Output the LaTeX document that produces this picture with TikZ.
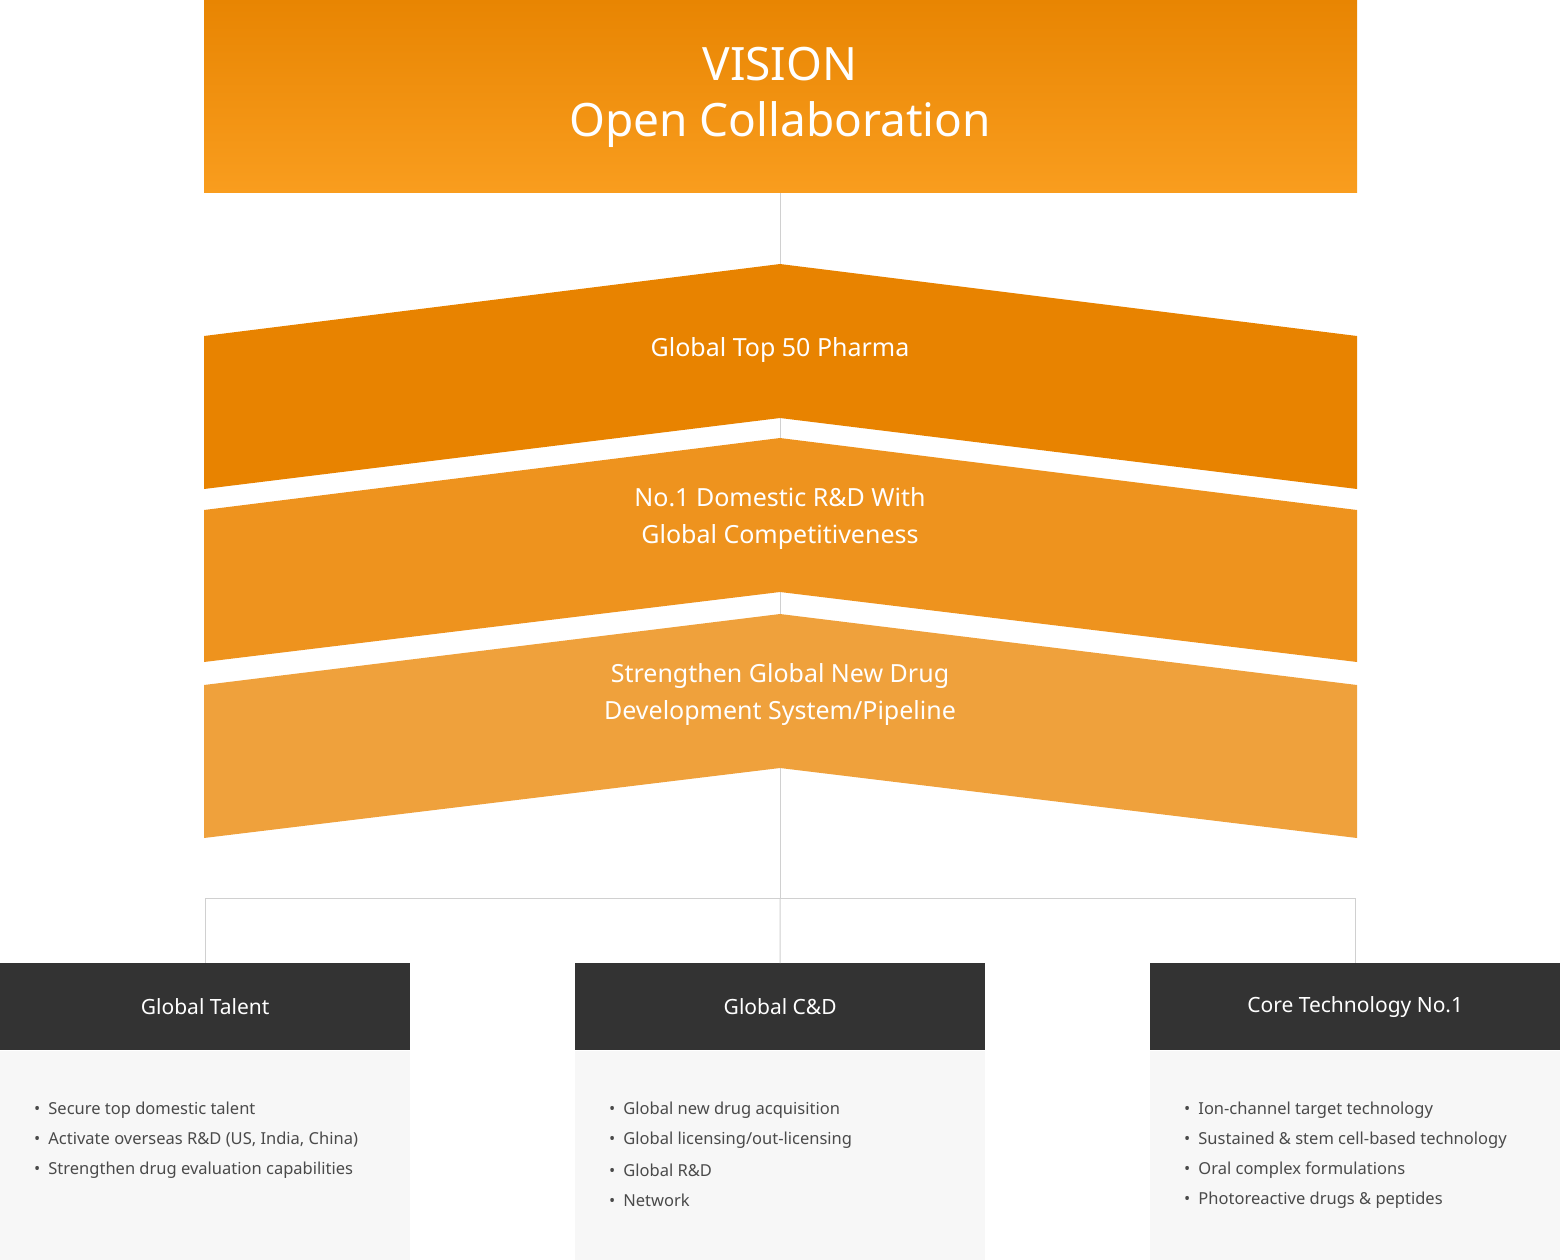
\documentclass[tikz,border=0pt]{standalone}
\usepackage{fontspec}
\setmainfont{Noto Sans}
\begin{document}
\begin{tikzpicture}[x=1pt,y=-1pt,
  title/.style={text=white,font=\bfseries\fontsize{46}{56}\selectfont,align=center},
  chev/.style={text=white,font=\bfseries\fontsize{25}{37}\selectfont,align=center},
  head/.style={fill=hdr,text=white,font=\bfseries\fontsize{21}{25}\selectfont,minimum width=410pt,minimum height=87pt,inner sep=0pt},
  body/.style={fill=bodyc,minimum width=410pt,minimum height=209pt,inner sep=0pt},
  item/.style={anchor=west,text=itemc,font=\fontsize{16.5}{20}\selectfont,inner sep=0pt},
  conn/.style={draw=linec,line width=1pt}]
\definecolor{hdr}{HTML}{333333}
\definecolor{bodyc}{HTML}{F7F7F7}
\definecolor{itemc}{HTML}{4A4A4A}
\definecolor{linec}{HTML}{D0D0D0}
\definecolor{c1}{HTML}{E88300}
\definecolor{c2}{HTML}{EE931E}
\definecolor{c3}{HTML}{EFA13C}
\definecolor{gtop}{HTML}{E88502}
\definecolor{gbot}{HTML}{F99D1E}
\useasboundingbox (0,0) rectangle (1560,1259);
% connectors
\coordinate (vb) at (780,192);
\coordinate (j) at (780,898);
\coordinate (jl) at (205,898);
\coordinate (jr) at (1355,898);
\draw[conn] (vb) -- (j);
\draw[conn] (jl) -- (jr);
% top box
\shade[top color=gtop,bottom color=gbot] (204,0) rectangle (1357,192);
\node[title] (vision) at (780,97) {VISION\\Open Collaboration};
% chevrons
\fill[c1] (204,336) -- (780,264) -- (1357,336) -- (1357,489) -- (780,418) -- (204,489) -- cycle;
\fill[c2] (204,510) -- (780,438) -- (1357,510) -- (1357,662) -- (780,592) -- (204,662) -- cycle;
\fill[c3] (204,685) -- (780,614) -- (1357,685) -- (1357,838) -- (780,768) -- (204,838) -- cycle;
\node[chev] (g1) at (780,350) {Global Top 50 Pharma};
\node[chev] (g2) at (780,518) {No.1 Domestic R\&D With\\ Global Competitiveness};
\node[chev] (g3) at (780,694) {Strengthen Global New Drug\\Development System/Pipeline};
% boxes
\node[head,anchor=north west] (h1) at (0,963) {Global Talent};
\node[head,anchor=north west] (h2) at (575,963) {Global C\&D};
\node[head,anchor=north west] (h3) at (1150,963) {Core Technology No.1};
\node[body,anchor=north] (b1) at (h1.south) {};
\node[body,anchor=north] (b2) at (h2.south) {};
\node[body,anchor=north] (b3) at (h3.south) {};
\draw[conn] (jl) -- (h1.north -| jl);
\draw[conn] (j) -- (h2.north);
\draw[conn] (jr) -- (h3.north -| jr);
% items
\node[item] (a1) at (34,1110) {•\hspace{8pt}Secure top domestic talent};
\node[item] (a2) at (34,1140) {•\hspace{8pt}Activate overseas R\&D (US, India, China)};
\node[item] (a3) at (34,1170) {•\hspace{8pt}Strengthen drug evaluation capabilities};
\node[item] (c1n) at (609,1110) {•\hspace{8pt}Global new drug acquisition};
\node[item] (c2n) at (609,1140) {•\hspace{8pt}Global licensing/out-licensing};
\node[item] (c3n) at (609,1170) {•\hspace{8pt}Global R\&D};
\node[item] (c4n) at (609,1200) {•\hspace{8pt}Network};
\node[item] (d1) at (1184,1110) {•\hspace{8pt}Ion-channel target technology};
\node[item] (d2) at (1184,1140) {•\hspace{8pt}Sustained \& stem cell-based technology};
\node[item] (d3) at (1184,1170) {•\hspace{8pt}Oral complex formulations};
\node[item] (d4) at (1184,1200) {•\hspace{8pt}Photoreactive drugs \& peptides};
\end{tikzpicture}
\end{document}
